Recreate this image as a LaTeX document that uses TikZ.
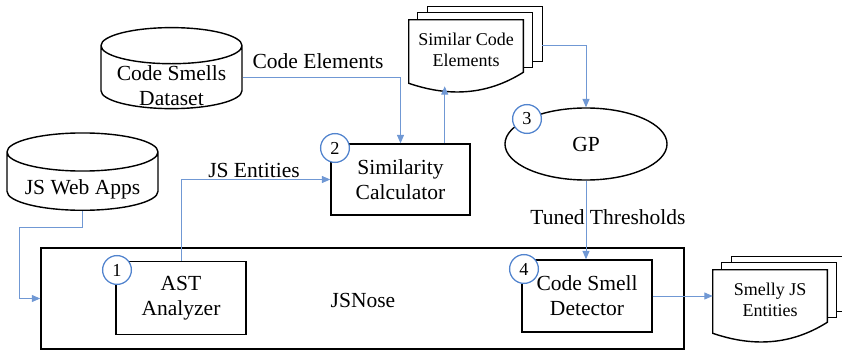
\documentclass[tikz,border=0pt]{standalone}
\usepackage{fontspec}
\setmainfont{Liberation Serif}
\usetikzlibrary{shapes.geometric,arrows.meta,calc,backgrounds}
\definecolor{flowblue}{RGB}{112,152,212}
\definecolor{numblue}{RGB}{82,132,206}
\newcommand\docstack[1]{%
  \draw[sheet] ($(#1.north west)+(19,13)$) rectangle ($(#1.south east)+(19,19)$);
  \draw[sheet] ($(#1.north west)+(9,7)$) rectangle ($(#1.south east)+(9,13)$);
  \draw[sheet] (#1.north west) -- (#1.north east) -- ($(#1.south east)+(0,8)$)
    .. controls ($(#1.south east)+(-38,-16)$) and ($(#1.south west)+(38,-16)$) .. ($(#1.south west)+(0,-3)$) -- cycle;
}
\begin{document}
\begin{tikzpicture}[x=0.025cm, y=0.025cm, line join=miter, font=\fontsize{15.3}{17.7}\selectfont]
  \tikzstyle{box}=[draw, line width=1pt, align=center, inner sep=0pt]
  \tikzstyle{db}=[draw, line width=1pt, cylinder, shape border rotate=90, aspect=0.33, inner sep=0pt]
  \tikzstyle{docnode}=[align=center, inner sep=0pt, minimum width=2.85cm, minimum height=1.5cm, font=\fontsize{12.8}{15}\selectfont]
  \tikzstyle{sheet}=[draw, line width=1pt, fill=white]
  \tikzstyle{numcirc}=[circle, draw=numblue, line width=0.9pt, fill=white, minimum size=0.72cm, inner sep=0pt, font=\fontsize{13}{13}\selectfont]
  \tikzstyle{flow}=[draw=flowblue, line width=0.7pt, -{Triangle[length=6pt, width=5pt]}]
  \useasboundingbox (0,0) rectangle (842,350);

  \node[db, minimum width=3.525cm, minimum height=2.025cm] (dataset) at (171.5,272.5) {\phantom{Code Smells}};
  \node[align=center] (datasettxt) at ($(dataset)+(0,-8)$) {Code Smells\\Dataset};
  \node[db, minimum width=3.775cm, minimum height=1.825cm] (webapps) at (82.5,168.5) {\phantom{JS Web Apps}};
  \node (webappstxt) at ($(webapps)+(0,-8)$) {JS Web Apps};
  \node[box, minimum width=3.475cm, minimum height=1.775cm] (simcalc) at (400.5,170.5) {Similarity\\Calculator};
  \node[draw, ellipse, line width=1pt, minimum width=4.05cm, minimum height=1.8cm] (gp) at (586,206) {GP};
  \node[box, minimum width=16.075cm, minimum height=2.525cm] (jsnose) at (362.5,51.5) {};
  \node (jsnoselbl) at (363,50) {JSNose};
  \node[box, minimum width=3.25cm, minimum height=1.825cm] (ast) at (181,52) {AST\\Analyzer};
  \node[box, minimum width=3.25cm, minimum height=1.8cm] (detector) at (587,54) {Code Smell\\Detector};
  \node[docnode] (simdoc) at (466,300) {Similar Code\\Elements};
  \node[docnode] (smelly) at (770,50) {Smelly JS\\Entities};
  \begin{scope}[on background layer]
    \docstack{simdoc}
    \docstack{smelly}
  \end{scope}

  \node[numcirc] (n1) at (117,80) {1};
  \node[numcirc] (n2) at (335,202) {2};
  \node[numcirc] (n3) at (527,231) {3};
  \node[numcirc] (n4) at (524,81) {4};

  \coordinate (simtip) at ($(simdoc.south west)+(36,-6)$);
  \coordinate (simout) at ($(simdoc.north east)+(19,-26)$);

  \draw[flow] (dataset.east) -| (simcalc.north);
  \draw[flow] (ast.north) |- (simcalc.west);
  \draw[flow] (simcalc.north -| simtip) -- (simtip);
  \draw[flow] (simout) -| (gp.north);
  \draw[flow] (gp.south) -- (gp.south |- detector.north);
  \draw[flow] (detector.east) -- (detector.east -| smelly.west);
  \draw[flow] (webapps.south) -- ++(0,-16) -| ($(jsnose.west)+(-21,0)$) -- (jsnose.west);

  \node (codeel) at (318,289) {Code Elements};
  \node (jsent) at (254,180) {JS Entities};
  \node (tuned) at (608,133) {Tuned Thresholds};
\end{tikzpicture}
\end{document}
